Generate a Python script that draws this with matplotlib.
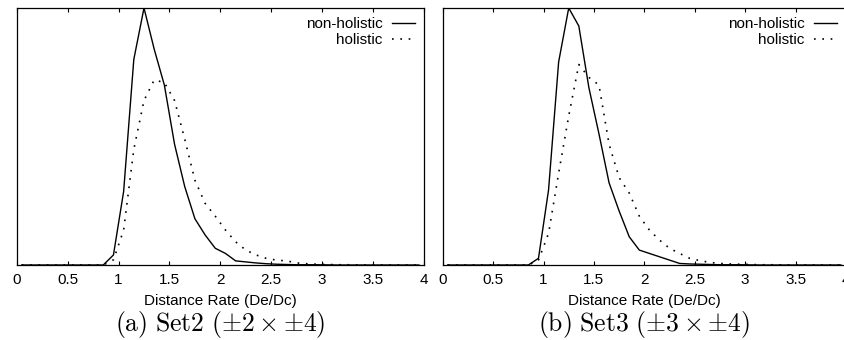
import numpy as np
import matplotlib
matplotlib.use("Agg")
import matplotlib.pyplot as plt

plt.rcParams['font.family'] = ['Liberation Sans', 'DejaVu Sans']
plt.rcParams['mathtext.fontset'] = 'cm'

# bin centres of the distance rate histogram
rate = np.round(np.arange(0.05, 4.0, 0.1), 2)

# Set2 (normalised frequency)
set2_nonhol = [0, 0, 0, 0, 0, 0, 0, 0, 0, 0.039,
               0.286, 0.80, 1.0, 0.84, 0.70, 0.47, 0.305, 0.18, 0.117, 0.065,
               0.045, 0.016, 0.012, 0.008, 0.005, 0.003, 0.002, 0.001, 0.001, 0.001,
               0.0005, 0, 0, 0, 0, 0, 0, 0, 0, 0]
set2_hol = [0, 0, 0, 0, 0, 0, 0, 0, 0, 0.02,
            0.136, 0.45, 0.64, 0.72, 0.71, 0.64, 0.49, 0.33, 0.24, 0.19,
            0.136, 0.09, 0.058, 0.039, 0.026, 0.019, 0.016, 0.008, 0.005, 0.003,
            0.002, 0.001, 0.001, 0.0005, 0, 0, 0, 0, 0, 0]

# Set3 (normalised frequency)
set3_nonhol = [0, 0, 0, 0, 0, 0, 0, 0, 0, 0.026,
               0.292, 0.79, 1.0, 0.93, 0.69, 0.51, 0.32, 0.21, 0.11, 0.058,
               0.045, 0.032, 0.019, 0.006, 0.004, 0.003, 0.002, 0.001, 0.001, 0.001,
               0.0005, 0, 0, 0, 0, 0, 0, 0, 0, 0]
set3_hol = [0, 0, 0, 0, 0, 0, 0, 0, 0, 0.019,
            0.123, 0.357, 0.58, 0.78, 0.73, 0.70, 0.47, 0.34, 0.28, 0.19,
            0.136, 0.097, 0.065, 0.045, 0.026, 0.017, 0.01, 0.006, 0.004, 0.003,
            0.002, 0.001, 0.001, 0.0005, 0, 0, 0, 0, 0, 0]

panels = [
    (set2_nonhol, set2_hol, r"$\mathrm{(a)\ Set2\ ({\pm}2 \times {\pm}4)}$"),
    (set3_nonhol, set3_hol, r"$\mathrm{(b)\ Set3\ ({\pm}3 \times {\pm}4)}$"),
]
xticks = [0, 0.5, 1, 1.5, 2, 2.5, 3, 3.5, 4]
xticklabels = ["0", "0.5", "1", "1.5", "2", "2.5", "3", "3.5", "4"]

fig = plt.figure(figsize=(8.44, 3.40), dpi=100)
positions = [[0.0198, 0.2206, 0.4826, 0.7559],
             [0.5245, 0.2206, 0.4779, 0.7559]]

for pos, (nonhol, hol, caption) in zip(positions, panels):
    ax = fig.add_axes(pos)
    ax.plot(rate, nonhol, color='k', lw=1.0, label='non-holistic')
    ax.plot(rate, hol, color='k', lw=1.2, linestyle=(0, (1, 4)), label='holistic')
    ax.set_xlim(0, 4)
    ax.set_ylim(0, 1.0)
    ax.set_xticks(xticks)
    ax.set_xticklabels(xticklabels)
    ax.set_yticks([])
    ax.tick_params(axis='x', direction='in', top=True, length=3, width=0.8,
                   labelsize=11, pad=6)
    for sp in ax.spines.values():
        sp.set_linewidth(0.9)
    ax.set_xlabel("Distance Rate (De/Dc)", fontsize=11, labelpad=5)
    ax.legend(loc='upper right', frameon=False, markerfirst=False, fontsize=11,
              handlelength=1.5, handletextpad=0.6, labelspacing=0.15,
              borderaxespad=0.2)
    ax.text(0.5, -0.233, caption, transform=ax.transAxes, ha='center',
            va='center', fontsize=18.5)

fig.savefig("out.png", dpi=100)
